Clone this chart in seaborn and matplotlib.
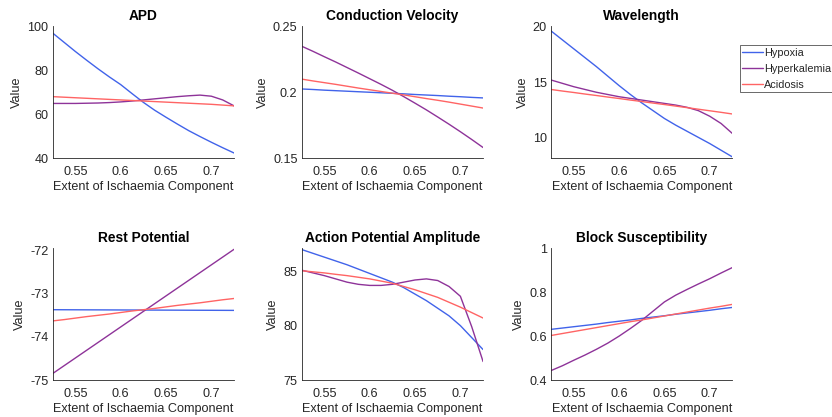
import numpy as np
import pandas as pd
import seaborn as sns
import matplotlib.pyplot as plt

# extent of ischaemia component (x grid)
extent = [0.525, 0.5375, 0.55, 0.5625, 0.575, 0.5875, 0.6, 0.6125, 0.625,
          0.6375, 0.65, 0.6625, 0.675, 0.6875, 0.7, 0.7125, 0.725]
conditions = ['Hypoxia', 'Hyperkalemia', 'Acidosis']

apd_hyp = [97.0, 92.8, 88.6, 84.6, 80.7, 77.0, 73.5, 69.4, 65.4,
           61.8, 58.6, 55.5, 52.5, 49.8, 47.2, 44.7, 42.3]
apd_hyk = [64.9, 64.9, 64.9, 65.0, 65.1, 65.3, 65.6, 66.0, 66.5,
           67.0, 67.5, 68.0, 68.4, 68.7, 68.2, 66.5, 63.8]
apd_aci = [68.0, 67.75, 67.5, 67.25, 67.0, 66.75, 66.5, 66.25, 66.0,
           65.75, 65.5, 65.25, 65.0, 64.75, 64.5, 64.15, 63.8]

cv_hyp = [0.2025, 0.2021, 0.2016, 0.2012, 0.2008, 0.2004, 0.2000, 0.1996, 0.1992,
          0.1988, 0.1983, 0.1979, 0.1975, 0.1970, 0.1966, 0.1961, 0.1957]
cv_hyk = [0.2350, 0.2311, 0.2270, 0.2230, 0.2188, 0.2146, 0.2103, 0.2060, 0.2015,
          0.1967, 0.1917, 0.1866, 0.1812, 0.1757, 0.1700, 0.1641, 0.1580]
cv_aci = [0.2100, 0.2086, 0.2073, 0.2060, 0.2046, 0.2032, 0.2019, 0.2006, 0.1993,
          0.1980, 0.1966, 0.1952, 0.1939, 0.1925, 0.1910, 0.1895, 0.1880]

wl_hyp = [19.6, 18.8, 18.0, 17.2, 16.4, 15.55, 14.7, 13.9, 13.15,
          12.45, 11.75, 11.15, 10.6, 10.05, 9.5, 8.9, 8.3]
wl_hyk = [15.2, 14.9, 14.6, 14.35, 14.1, 13.9, 13.7, 13.55, 13.4,
          13.25, 13.1, 12.95, 12.75, 12.45, 11.95, 11.3, 10.4]
wl_aci = [14.35, 14.21, 14.08, 13.94, 13.81, 13.67, 13.54, 13.40, 13.27,
          13.13, 13.0, 12.86, 12.72, 12.58, 12.44, 12.3, 12.15]

rp_hyp = [-73.370, -73.371, -73.372, -73.373, -73.374, -73.375, -73.376, -73.377, -73.378,
          -73.379, -73.380, -73.381, -73.382, -73.383, -73.384, -73.385, -73.386]
rp_hyk = [-74.85, -74.67, -74.49, -74.31, -74.13, -73.95, -73.77, -73.59, -73.41,
          -73.23, -73.05, -72.87, -72.69, -72.51, -72.33, -72.15, -71.97]
rp_aci = [-73.63, -73.60, -73.565, -73.53, -73.50, -73.47, -73.435, -73.40, -73.37,
          -73.34, -73.305, -73.27, -73.24, -73.21, -73.175, -73.14, -73.11]

apa_hyp = [87.0, 86.65, 86.3, 85.95, 85.6, 85.2, 84.8, 84.4, 84.0,
           83.5, 82.9, 82.3, 81.6, 80.9, 80.0, 78.9, 77.8]
apa_hyk = [85.1, 84.85, 84.6, 84.3, 84.0, 83.8, 83.7, 83.7, 83.8,
           84.0, 84.2, 84.3, 84.15, 83.6, 82.7, 79.9, 76.7]
apa_aci = [85.05, 84.95, 84.85, 84.72, 84.6, 84.45, 84.3, 84.1, 83.9,
           83.6, 83.3, 82.95, 82.6, 82.15, 81.7, 81.2, 80.7]

bs_hyp = [0.631, 0.637, 0.643, 0.649, 0.655, 0.662, 0.668, 0.674, 0.681,
          0.687, 0.693, 0.700, 0.706, 0.712, 0.718, 0.725, 0.731]
bs_hyk = [0.443, 0.465, 0.490, 0.514, 0.540, 0.568, 0.600, 0.635, 0.672,
          0.714, 0.756, 0.787, 0.813, 0.838, 0.862, 0.888, 0.913]
bs_aci = [0.603, 0.612, 0.621, 0.630, 0.639, 0.648, 0.657, 0.666, 0.674,
          0.683, 0.692, 0.701, 0.710, 0.719, 0.728, 0.736, 0.745]

panels = [
    ('APD', [apd_hyp, apd_hyk, apd_aci], (40, 100), [40, 60, 80, 100], ['40', '60', '80', '100']),
    ('Conduction Velocity', [cv_hyp, cv_hyk, cv_aci], (0.15, 0.25), [0.15, 0.2, 0.25], ['0.15', '0.2', '0.25']),
    ('Wavelength', [wl_hyp, wl_hyk, wl_aci], (8.2, 20), [10, 15, 20], ['10', '15', '20']),
    ('Rest Potential', [rp_hyp, rp_hyk, rp_aci], (-75, -71.95), [-75, -74, -73, -72], ['-75', '-74', '-73', '-72']),
    ('Action Potential Amplitude', [apa_hyp, apa_hyk, apa_aci], (75, 87.1), [75, 80, 85], ['75', '80', '85']),
    ('Block Susceptibility', [bs_hyp, bs_hyk, bs_aci], (0.4, 1.0), [0.4, 0.6, 0.8, 1.0], ['0.4', '0.6', '0.8', '1']),
]

palette = {'Hypoxia': '#4163ea', 'Hyperkalemia': '#8e3399', 'Acidosis': '#ff6464'}

sns.set_style('white')
plt.rcParams['font.family'] = ['Liberation Sans', 'DejaVu Sans']

fig = plt.figure(figsize=(8.32, 4.17), dpi=100)
lefts = [0.0633, 0.3626, 0.6623]
bottoms = [0.621, 0.0887]
w, h = 0.218, 0.3155

for i, (title, series, ylim, yt, ytl) in enumerate(panels):
    ax = fig.add_axes([lefts[i % 3], bottoms[i // 3], w, h])
    rows = []
    for cond, vals in zip(conditions, series):
        for xv, yv in zip(extent, vals):
            rows.append({'extent': xv, 'value': yv, 'condition': cond})
    df = pd.DataFrame(rows)
    sns.lineplot(data=df, x='extent', y='value', hue='condition', palette=palette,
                 linewidth=1.0, ax=ax, legend=(i == 2))
    ax.set_xlim(0.525, 0.725)
    ax.set_ylim(*ylim)
    ax.set_xticks([0.55, 0.6, 0.65, 0.7])
    ax.set_xticklabels(['0.55', '0.6', '0.65', '0.7'])
    ax.set_yticks(yt)
    ax.set_yticklabels(ytl)
    ax.set_title(title, fontsize=9.9, fontweight='bold', pad=5, color='black')
    ax.set_xlabel('Extent of Ischaemia Component', fontsize=9.1, color='#262626', labelpad=2)
    ax.set_ylabel('Value', fontsize=9.1, color='#262626', labelpad=3)
    for s in ['top', 'right']:
        ax.spines[s].set_visible(False)
    for s in ['left', 'bottom']:
        ax.spines[s].set_color('#262626')
        ax.spines[s].set_linewidth(0.6)
    ax.tick_params(direction='in', length=3, width=0.6, labelsize=9.1, colors='#262626')
    ax.tick_params(axis='x', pad=6)
    ax.tick_params(axis='y', pad=3)
    if i == 2:
        leg = ax.legend(loc='upper left', bbox_to_anchor=(1.04, 0.86), fontsize=7.8,
                        frameon=True, fancybox=False, edgecolor='#262626',
                        handlelength=1.9, handletextpad=0.1, borderpad=0.25,
                        labelspacing=0.55, borderaxespad=0)
        leg.get_frame().set_linewidth(0.6)

fig.savefig('out.png', dpi=100)
